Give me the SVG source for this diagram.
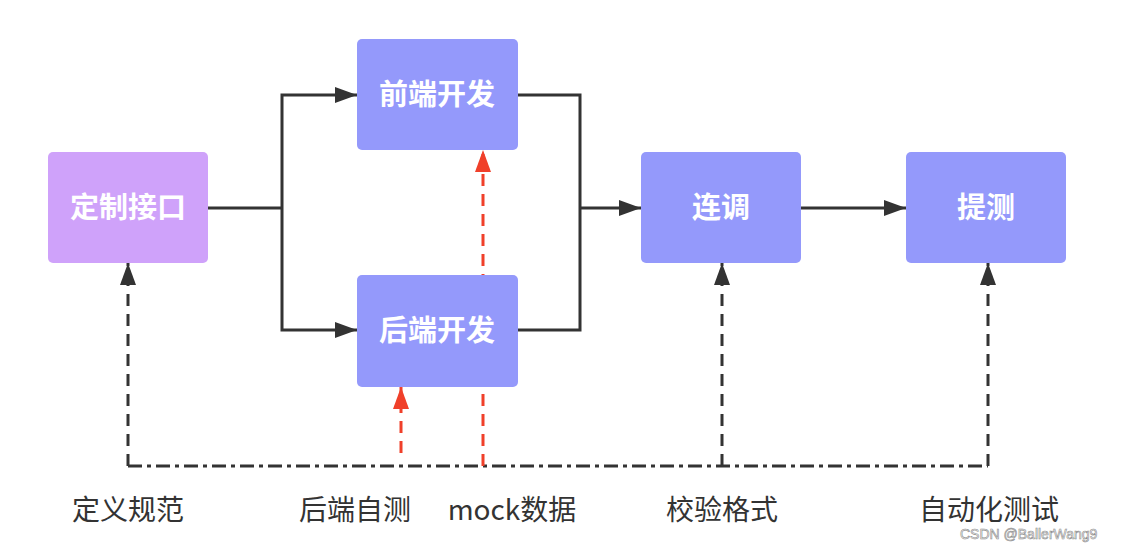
<svg xmlns="http://www.w3.org/2000/svg" width="1129" height="544" viewBox="0 0 1129 544">
<defs>
<style>
.node{fill:#9499FB}
.purple{fill:#CFA2FA}
.nt{font-family:"Noto Sans CJK SC","Noto Sans",sans-serif;font-size:29px;font-weight:bold;fill:#FFFFFF;text-anchor:middle}
.lbl{font-family:"Noto Sans CJK SC","Noto Sans",sans-serif;font-size:28px;fill:#333333;text-anchor:middle}
.solid{fill:none;stroke:#333333;stroke-width:3}
.dash{fill:none;stroke:#333333;stroke-width:3;stroke-dasharray:12 8}
.dashdot{fill:none;stroke:#333333;stroke-width:3;stroke-dasharray:14 5 4 5}
.red{fill:none;stroke:#F0402A;stroke-width:3;stroke-dasharray:12 8}
.wm{font-family:"Liberation Sans",Arial,sans-serif;font-size:14px;fill:#FFFFFF;stroke:#8a8a8a;stroke-width:0.6}
</style>
<marker id="ah" viewBox="0 0 22 16" refX="22" refY="8" markerWidth="22" markerHeight="16" markerUnits="userSpaceOnUse" orient="auto">
<path d="M0,0 L22,8 L0,16 Z" fill="#333333"/>
</marker>
<marker id="ahr" viewBox="0 0 22 16" refX="22" refY="8" markerWidth="22" markerHeight="16" markerUnits="userSpaceOnUse" orient="auto">
<path d="M0,0 L22,8 L0,16 Z" fill="#F0402A"/>
</marker>
</defs>
<rect width="1129" height="544" fill="#FFFFFF"/>
<g id="connectors">
<path class="solid" d="M208,208 H282"/>
<path class="solid" d="M282,208 V95 H357" marker-end="url(#ah)"/>
<path class="solid" d="M282,208 V330 H357" marker-end="url(#ah)"/>
<path class="solid" d="M518,95 H580 V330 H518"/>
<path class="solid" d="M580,208 H641" marker-end="url(#ah)"/>
<path class="solid" d="M801,208 H906" marker-end="url(#ah)"/>
<path class="dashdot" d="M128,466 H988"/>
<path class="dash" d="M128,466 V263" marker-end="url(#ah)"/>
<path class="dash" d="M722,466 V263" marker-end="url(#ah)"/>
<path class="dash" d="M988,466 V263" marker-end="url(#ah)"/>
<path class="red" d="M401,453 V387" marker-end="url(#ahr)"/>
<path class="red" d="M483,466 V150" marker-end="url(#ahr)"/>
</g>
<g id="n-define">
<rect class="purple" x="48" y="152" width="160" height="111" rx="5"/>
<text class="nt" x="128" y="218">定制接口</text>
</g>
<g id="n-frontend">
<rect class="node" x="357" y="39" width="161" height="111" rx="5"/>
<text class="nt" x="437" y="105">前端开发</text>
</g>
<g id="n-backend">
<rect class="node" x="357" y="275" width="161" height="112" rx="5"/>
<text class="nt" x="437" y="341">后端开发</text>
</g>
<g id="n-joint">
<rect class="node" x="641" y="152" width="160" height="111" rx="5"/>
<text class="nt" x="721" y="218">连调</text>
</g>
<g id="n-test">
<rect class="node" x="906" y="152" width="160" height="111" rx="5"/>
<text class="nt" x="986" y="218">提测</text>
</g>
<g id="labels">
<text class="lbl" x="128" y="520">定义规范</text>
<text class="lbl" x="355" y="520">后端自测</text>
<text class="lbl" x="512" y="520">mock数据</text>
<text class="lbl" x="722" y="520">校验格式</text>
<text class="lbl" x="989" y="520">自动化测试</text>
</g>
<text class="wm" x="960" y="539">CSDN @BallerWang9</text>
</svg>
